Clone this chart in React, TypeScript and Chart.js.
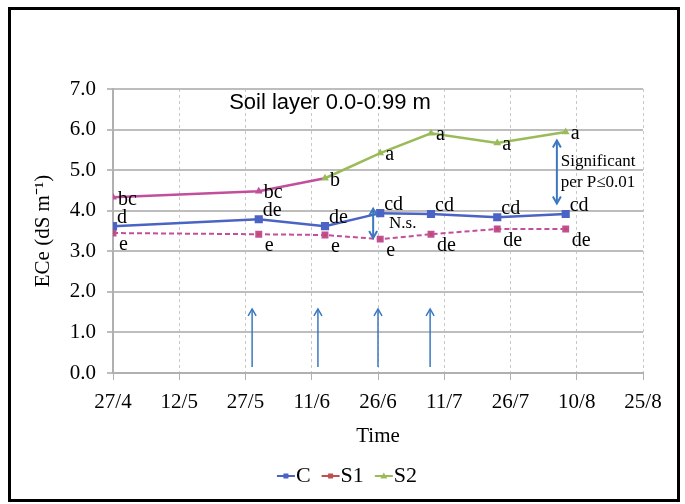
import React, { useEffect, useRef } from 'react';
import { Chart, registerables } from 'chart.js';

Chart.register(...registerables);

// ---- data ----
const tickLabels = ['27/4', '12/5', '27/5', '11/6', '26/6', '11/7', '26/7', '10/8', '25/8'];
const sampleDays = [0, 33, 48, 60.5, 72, 87, 102.5];
const cValues = [3.62, 3.79, 3.62, 3.94, 3.92, 3.84, 3.92];
const s1Values = [3.45, 3.42, 3.4, 3.3, 3.42, 3.55, 3.55];
const s2Values = [4.33, 4.48, 4.8, 5.42, 5.91, 5.67, 5.94];
const cLetters = ['d', 'de', 'de', 'cd', 'cd', 'cd', 'cd'];
const s1Letters = ['e', 'e', 'e', 'e', 'de', 'de', 'de'];
const s2Letters = ['bc', 'bc', 'b', 'a', 'a', 'a', 'a'];
const irrigationDays = [31.5, 46.4, 60, 71.8];
const irrigationFrom = 0.15;
const irrigationTo = 1.58;
const nsArrow = { day: 58.9, from: 4.05, to: 3.33 };
const sigArrow = { day: 100.5, from: 5.73, to: 4.18 };
const titleText = 'Soil layer 0.0-0.99 m';

const SERIF = '"Liberation Serif", "Times New Roman", serif';
const SANS = '"Liberation Sans", Arial, sans-serif';
const BLUE = '#4a63c4';
const RED = '#c0504d';
const GREEN = '#9bbb59';
const PINK = '#c24f9c';
const ARROW = '#3b78c0';

function drawArrowHead(ctx: CanvasRenderingContext2D, x: number, y: number, dir: number) {
  ctx.beginPath();
  ctx.moveTo(x - 4, y + dir * 7);
  ctx.lineTo(x, y);
  ctx.lineTo(x + 4, y + dir * 7);
  ctx.stroke();
}

const annotations = {
  id: 'annotations',
  beforeDraw(chart: any) {
    const { ctx, width, height } = chart;
    ctx.save();
    ctx.fillStyle = '#ffffff';
    ctx.fillRect(0, 0, width, height);
    ctx.restore();
  },
  afterDatasetsDraw(chart: any) {
    const { ctx } = chart;
    const x = chart.scales.x;
    const y = chart.scales.y;
    ctx.save();
    // irrigation arrows
    ctx.strokeStyle = ARROW;
    ctx.lineWidth = 1.5;
    irrigationDays.forEach((d) => {
      const px = x.getPixelForValue(d);
      const y0 = y.getPixelForValue(irrigationFrom);
      const y1 = y.getPixelForValue(irrigationTo);
      ctx.beginPath();
      ctx.moveTo(px, y0);
      ctx.lineTo(px, y1);
      ctx.stroke();
      drawArrowHead(ctx, px, y1, 1);
    });
    // double arrows
    [nsArrow, sigArrow].forEach((a) => {
      const px = x.getPixelForValue(a.day);
      const yTop = y.getPixelForValue(Math.max(a.from, a.to));
      const yBot = y.getPixelForValue(Math.min(a.from, a.to));
      ctx.lineWidth = 2;
      ctx.beginPath();
      ctx.moveTo(px, yTop);
      ctx.lineTo(px, yBot);
      ctx.stroke();
      drawArrowHead(ctx, px, yTop, 1);
      drawArrowHead(ctx, px, yBot, -1);
    });
    // letters
    ctx.fillStyle = '#000';
    ctx.font = `20px ${SERIF}`;
    ctx.textAlign = 'left';
    ctx.textBaseline = 'middle';
    const sets: [number[], string[], number, number][] = [
      [s1Values, s1Letters, 6, 12],
      [cValues, cLetters, 4, -8],
      [s2Values, s2Letters, 5, 2],
    ];
    sets.forEach(([vals, letters, dx, dy]) => {
      vals.forEach((v, i) => {
        ctx.fillText(letters[i], x.getPixelForValue(sampleDays[i]) + dx, y.getPixelForValue(v) + dy);
      });
    });
    // texts
    ctx.font = `22px ${SANS}`;
    ctx.fillText(titleText, x.getPixelForValue(26.3), y.getPixelForValue(6.65));
    ctx.font = `17px ${SERIF}`;
    ctx.fillText('N.s.', x.getPixelForValue(62.5), y.getPixelForValue(3.69));
    ctx.fillText('Significant', x.getPixelForValue(101.4), y.getPixelForValue(5.2));
    ctx.fillText('per P\u22640.01', x.getPixelForValue(101.4), y.getPixelForValue(4.7));
    ctx.restore();
  },
  afterDraw(chart: any) {
    const { ctx } = chart;
    ctx.save();
    // legend
    const items = [
      { label: 'C', color: BLUE, style: 'rect' },
      { label: 'S1', color: RED, style: 'rect' },
      { label: 'S2', color: GREEN, style: 'tri' },
    ];
    ctx.font = `22px ${SERIF}`;
    const lineW = 18;
    const gap = 11;
    const widths = items.map((it) => lineW + 1 + ctx.measureText(it.label).width);
    const total = widths.reduce((a, b) => a + b, 0) + gap * (items.length - 1);
    let cx = 347 - total / 2;
    const cy = 476;
    items.forEach((it, i) => {
      ctx.strokeStyle = it.color;
      ctx.fillStyle = it.color;
      ctx.lineWidth = 2;
      ctx.beginPath();
      ctx.moveTo(cx, cy);
      ctx.lineTo(cx + lineW, cy);
      ctx.stroke();
      const mx = cx + lineW / 2;
      if (it.style === 'rect') {
        ctx.fillRect(mx - 2.5, cy - 2.5, 5, 5);
      } else {
        ctx.beginPath();
        ctx.moveTo(mx, cy - 3.5);
        ctx.lineTo(mx + 3.5, cy + 2.5);
        ctx.lineTo(mx - 3.5, cy + 2.5);
        ctx.closePath();
        ctx.fill();
      }
      ctx.fillStyle = '#000';
      ctx.textAlign = 'left';
      ctx.textBaseline = 'middle';
      ctx.fillText(it.label, cx + lineW + 1, cy);
      cx += widths[i] + gap;
    });
    // frame
    ctx.strokeStyle = '#000';
    ctx.lineWidth = 3;
    ctx.strokeRect(9.5, 8.5, 669, 492);
    ctx.restore();
  },
};

export default function App() {
  const ref = useRef<HTMLCanvasElement | null>(null);
  useEffect(() => {
    if (!ref.current) return;
    const chart = new Chart(ref.current, {
      type: 'line',
      data: {
        datasets: [
          {
            label: 'C',
            data: sampleDays.map((d, i) => ({ x: d, y: cValues[i] })),
            borderColor: BLUE,
            backgroundColor: BLUE,
            borderWidth: 2.5,
            pointStyle: 'rect',
            pointRadius: 4,
          },
          {
            label: 'S1',
            data: sampleDays.map((d, i) => ({ x: d, y: s1Values[i] })),
            borderColor: PINK,
            backgroundColor: RED,
            borderWidth: 2,
            borderDash: [5, 3],
            pointStyle: 'rect',
            pointRadius: 3.5,
          },
          {
            label: 'S2',
            data: sampleDays.map((d, i) => ({ x: d, y: s2Values[i] })),
            borderColor: GREEN,
            backgroundColor: sampleDays.map((_, i) => (i < 2 ? PINK : GREEN)),
            borderWidth: 2.5,
            pointStyle: 'triangle',
            pointRadius: 4.5,
            pointBorderWidth: 0,
            segment: {
              borderColor: (c: any) => (c.p0DataIndex < 2 ? PINK : GREEN),
            },
          },
        ],
      },
      options: {
        animation: false,
        responsive: false,
        layout: { padding: { left: 0, top: 89, right: 42, bottom: 51 } },
        plugins: { legend: { display: false }, tooltip: { enabled: false } },
        scales: {
          x: {
            type: 'linear',
            min: 0,
            max: 120,
            afterFit: (s: any) => {
              s.height = 80;
            },
            afterBuildTicks: (s: any) => {
              s.ticks = tickLabels.map((_, i) => ({ value: i * 15 }));
            },
            ticks: {
              callback: (v: any) => tickLabels[Math.round(Number(v) / 15)],
              font: { family: SERIF, size: 21 },
              color: '#000',
              padding: 10,
              maxRotation: 0,
            },
            grid: {
              color: '#c8c8c8',
              lineWidth: 1,
              tickLength: 7,
              tickColor: '#b0b0b0',
              tickBorderDash: [],
            },
            border: { display: true, color: '#b0b0b0', width: 2, dash: [3, 3] },
            title: {
              display: true,
              text: 'Time',
              font: { family: SERIF, size: 21 },
              color: '#000',
              padding: { top: 0, bottom: 4 },
            },
          },
          y: {
            min: 0,
            max: 7,
            afterFit: (s: any) => {
              s.width = 113;
            },
            ticks: {
              stepSize: 1,
              callback: (v: any) => Number(v).toFixed(1),
              font: { family: SERIF, size: 21 },
              color: '#000',
              padding: 11,
            },
            grid: { color: '#bdbdbd', lineWidth: 2, tickLength: 6 },
            border: { display: true, color: '#b0b0b0', width: 2 },
            title: {
              display: true,
              text: 'ECe (dS m\u207B\u00B9)',
              font: { family: SERIF, size: 21 },
              color: '#000',
              padding: { top: 31, bottom: 0 },
            },
          },
        },
      },
      plugins: [annotations],
    });
    return () => chart.destroy();
  }, []);
  return (
    <div style={{ position: 'absolute', left: 0, top: 0, width: 685, height: 504 }}>
      <canvas ref={ref} width={685} height={504} />
    </div>
  );
}
